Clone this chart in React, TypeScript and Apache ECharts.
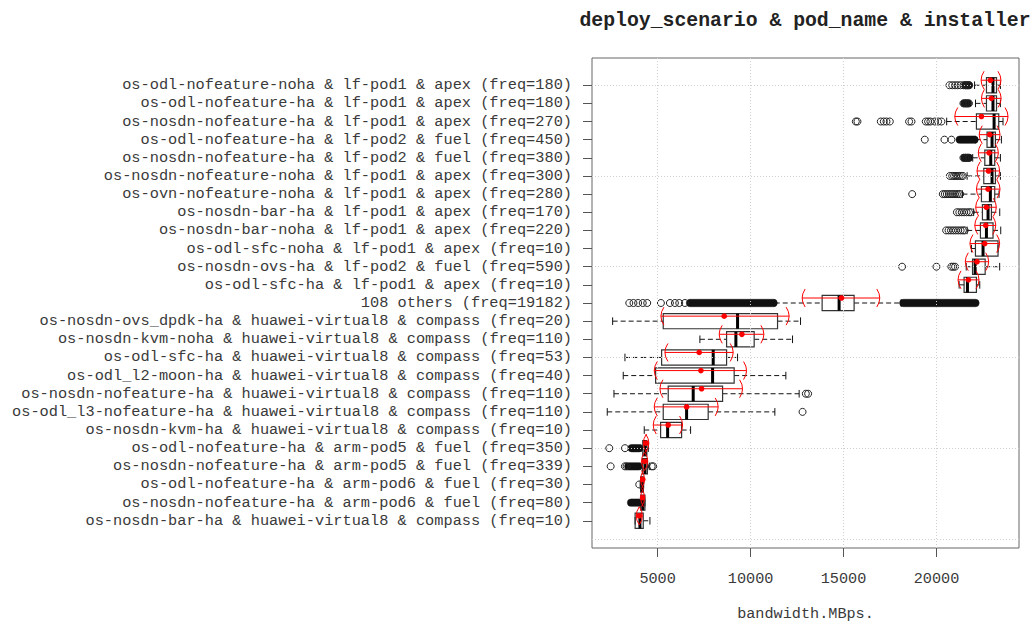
import { useEffect, useRef } from "react";
import * as echarts from "echarts";

// Categories, top to bottom as in the chart
const categories = [
  "os-odl-nofeature-noha & lf-pod1 & apex (freq=180)",
  "os-odl-nofeature-ha & lf-pod1 & apex (freq=180)",
  "os-nosdn-nofeature-ha & lf-pod1 & apex (freq=270)",
  "os-odl-nofeature-ha & lf-pod2 & fuel (freq=450)",
  "os-nosdn-nofeature-ha & lf-pod2 & fuel (freq=380)",
  "os-nosdn-nofeature-noha & lf-pod1 & apex (freq=300)",
  "os-ovn-nofeature-noha & lf-pod1 & apex (freq=280)",
  "os-nosdn-bar-ha & lf-pod1 & apex (freq=170)",
  "os-nosdn-bar-noha & lf-pod1 & apex (freq=220)",
  "os-odl-sfc-noha & lf-pod1 & apex (freq=10)",
  "os-nosdn-ovs-ha & lf-pod2 & fuel (freq=590)",
  "os-odl-sfc-ha & lf-pod1 & apex (freq=10)",
  "108 others (freq=19182)",
  "os-nosdn-ovs_dpdk-ha & huawei-virtual8 & compass (freq=20)",
  "os-nosdn-kvm-noha & huawei-virtual8 & compass (freq=110)",
  "os-odl-sfc-ha & huawei-virtual8 & compass (freq=53)",
  "os-odl_l2-moon-ha & huawei-virtual8 & compass (freq=40)",
  "os-nosdn-nofeature-ha & huawei-virtual8 & compass (freq=110)",
  "os-odl_l3-nofeature-ha & huawei-virtual8 & compass (freq=110)",
  "os-nosdn-kvm-ha & huawei-virtual8 & compass (freq=10)",
  "os-odl-nofeature-ha & arm-pod5 & fuel (freq=350)",
  "os-nosdn-nofeature-ha & arm-pod5 & fuel (freq=339)",
  "os-odl-nofeature-ha & arm-pod6 & fuel (freq=30)",
  "os-nosdn-nofeature-ha & arm-pod6 & fuel (freq=80)",
  "os-nosdn-bar-ha & huawei-virtual8 & compass (freq=10)",
];

const boxLow = [22050, 22100, 20550, 22100, 21950, 21650, 21400, 22000, 21650, 21882, 21600, 21218, 11300, 2580, 7274, 3242, 3151, 2651, 2290, 4280, 4100, 4050, 4060, 4050, 3790];
const boxQ1 = [22690, 22690, 22150, 22720, 22600, 22545, 22420, 22473, 22365, 22097, 21940, 21486, 13850, 5302, 8710, 5215, 4892, 5570, 5302, 5161, 4200, 4180, 4090, 4090, 3790];
const boxMedian = [23040, 23040, 23100, 22990, 22920, 22990, 22900, 22775, 22688, 22506, 22080, 21667, 14763, 9300, 9210, 7990, 7957, 6914, 6559, 5538, 4330, 4320, 4160, 4200, 4048];
const boxQ3 = [23230, 23230, 23350, 23170, 23134, 23170, 23134, 22957, 23043, 23312, 22620, 22150, 15570, 11451, 10194, 8710, 9118, 8495, 7720, 6290, 4420, 4450, 4226, 4317, 4226];
const boxHigh = [23440, 23440, 23580, 23494, 23440, 23440, 23366, 23404, 23458, 23312, 23400, 22329, 18100, 12688, 12258, 9301, 11898, 12613, 11306, 6774, 4500, 4550, 4250, 4320, 4586];

const means = [22900, 22955, 22420, 22866, 22830, 22800, 22775, 22688, 22650, 22597, 22183, 21720, 14892, 8582, 9532, 7237, 7328, 7365, 6559, 5570, 4380, 4300, 4200, 4190, 4011];
const ciLow = [22400, 22420, 20984, 22300, 22250, 22180, 22150, 22110, 22060, 21800, 21550, 21160, 12775, 5177, 8312, 5392, 4817, 5124, 4817, 4763, 4230, 4130, 4080, 4080, 3850];
const ciHigh = [23470, 23480, 23850, 23420, 23330, 23400, 23420, 23220, 23190, 23400, 22810, 22290, 16951, 12075, 10715, 9066, 9785, 9570, 8258, 6344, 4530, 4470, 4300, 4300, 4180];

// individual outliers per row (top to bottom)
const outlierValues: number[][] = [
  [20700, 20850, 21000, 21150, 21300, 21450, 21550, 21650, 21750],
  [21450, 21550, 21650, 21750],
  [15661, 15750, 17005, 17167, 17310, 17490, 18527, 18656, 19425, 19550, 19675, 19910, 20090, 20268],
  [19371, 20430, 20806],
  [21450, 21550, 21650, 21750],
  [20720, 20850, 20950, 21050, 21150, 21250, 21350, 21420],
  [18694, 20340, 20450, 20560, 20670, 20780, 20890, 21000, 21100, 21200, 21280],
  [21100, 21230, 21360, 21490, 21620, 21750, 21850],
  [20520, 20650, 20780, 20910, 21040, 21170, 21300, 21420, 21520],
  [],
  [18151, 20000, 20800, 20900, 21000],
  [],
  [3475, 3700, 3950, 4200, 4440, 5177, 5661, 5930, 6163, 6468],
  [],
  [],
  [],
  [],
  [12973, 13097],
  [12796],
  [],
  [2400, 3242],
  [2473, 3240, 3330, 4680, 4760],
  [4011],
  [],
  [],
];

// ranges of densely packed outliers: [row, from, to]
const outlierBands: [number, number, number][] = [
  [0, 21550, 21750],
  [1, 21500, 21700],
  [3, 21250, 22050],
  [4, 21500, 21750],
  [12, 6740, 11240],
  [12, 18215, 22100],
  [20, 3600, 4016],
  [21, 3420, 3980],
  [23, 3570, 3990],
];

const xTicks = [5000, 10000, 15000, 20000];
const yGridPositions = [0, 5, 10, 15, 20, 25];

const FONT = "'Liberation Mono', 'DejaVu Sans Mono', monospace";

export default function App() {
  const ref = useRef<HTMLDivElement>(null);

  useEffect(() => {
    const chart = echarts.init(ref.current!, null, { renderer: "svg" });
    const n = categories.length;
    const yData = [" ", ...categories.slice().reverse(), "  "];
    const idx = (r: number) => n - r;

    const boxData = categories.map((_, r) => [idx(r), boxLow[r], boxQ1[r], boxMedian[r], boxQ3[r], boxHigh[r]]);
    const ciData = categories.map((_, r) => [idx(r), means[r], ciLow[r], ciHigh[r]]);
    const outData: number[][] = [];
    outlierValues.forEach((vals, r) => vals.forEach((v) => outData.push([v, idx(r)])));
    const bandData = outlierBands.map(([r, a, b]) => [idx(r), a, b]);

    const renderBox = (_params: any, api: any) => {
      const y = api.value(0);
      const lo = api.coord([api.value(1), y]);
      const q1 = api.coord([api.value(2), y]);
      const md = api.coord([api.value(3), y]);
      const q3 = api.coord([api.value(4), y]);
      const hi = api.coord([api.value(5), y]);
      const band = api.size([0, 1])[1];
      const h = band * 0.42;
      const cy = lo[1];
      const st = 3.8;
      const dash = { stroke: "#111", lineWidth: 1, lineDash: [5, 3], fill: null };
      const solid = { stroke: "#111", lineWidth: 1, fill: null };
      return {
        type: "group",
        children: [
          { type: "line", shape: { x1: lo[0], y1: cy, x2: q1[0], y2: cy }, style: dash },
          { type: "line", shape: { x1: q3[0], y1: cy, x2: hi[0], y2: cy }, style: dash },
          { type: "line", shape: { x1: lo[0], y1: cy - st, x2: lo[0], y2: cy + st }, style: solid },
          { type: "line", shape: { x1: hi[0], y1: cy - st, x2: hi[0], y2: cy + st }, style: solid },
          {
            type: "rect",
            shape: { x: q1[0], y: cy - h, width: q3[0] - q1[0], height: 2 * h },
            style: { fill: "transparent", stroke: "#333", lineWidth: 1.2 },
          },
          { type: "line", shape: { x1: md[0], y1: cy - h, x2: md[0], y2: cy + h }, style: { stroke: "#000", lineWidth: 3 } },
        ],
      };
    };

    const renderBands = (_params: any, api: any) => {
      const y = api.value(0);
      const a = api.coord([api.value(1), y]);
      const b = api.coord([api.value(2), y]);
      const r = 3.7;
      return {
        type: "rect",
        shape: { x: a[0] - r, y: a[1] - r, width: b[0] - a[0] + 2 * r, height: 2 * r, r: r },
        style: { fill: "#111", stroke: "#111", lineWidth: 0.5 },
      };
    };

    const renderCI = (_params: any, api: any) => {
      const y = api.value(0);
      const m = api.coord([api.value(1), y]);
      const lo = api.coord([api.value(2), y]);
      const hi = api.coord([api.value(3), y]);
      const cy = m[1] - 5;
      const bh = 9;
      const red = "#ff0000";
      return {
        type: "group",
        children: [
          { type: "line", shape: { x1: lo[0], y1: cy, x2: hi[0], y2: cy }, style: { stroke: red, lineWidth: 1 } },
          {
            type: "bezierCurve",
            shape: { x1: lo[0] + 3, y1: cy - bh, x2: lo[0] + 3, y2: cy + bh, cpx1: lo[0] - 3, cpy1: cy },
            style: { stroke: red, lineWidth: 1, fill: null },
          },
          {
            type: "bezierCurve",
            shape: { x1: hi[0] - 3, y1: cy - bh, x2: hi[0] - 3, y2: cy + bh, cpx1: hi[0] + 3, cpy1: cy },
            style: { stroke: red, lineWidth: 1, fill: null },
          },
          { type: "circle", shape: { cx: m[0], cy: cy, r: 2.8 }, style: { fill: red } },
        ],
      };
    };

    const option: any = {
      animation: false,
      backgroundColor: "#ffffff",
      textStyle: { fontFamily: FONT },
      graphic: [
        {
          type: "text",
          x: 805,
          y: 21,
          style: {
            text: "deploy_scenario & pod_name & installer",
            font: `bold 19.8px ${FONT}`,
            fill: "#222",
            align: "center",
            verticalAlign: "middle",
          },
        },
      ],
      grid: {
        left: 592,
        top: 58,
        width: 427,
        height: 490,
        show: true,
        borderColor: "#666",
        borderWidth: 1,
        backgroundColor: "transparent",
        containLabel: false,
        outerBoundsMode: "none",
      },
      xAxis: {
        type: "value",
        min: 1470,
        max: 24440,
        name: "bandwidth.MBps.",
        nameLocation: "middle",
        nameGap: 58,
        nameTextStyle: { fontFamily: FONT, fontSize: 15.2, color: "#3a3a3a" },
        axisLine: { show: false },
        axisTick: { show: true, length: 9, customValues: xTicks, lineStyle: { color: "#555" } },
        axisLabel: {
          customValues: xTicks,
          margin: 23,
          fontFamily: FONT,
          fontSize: 15.2,
          color: "#3a3a3a",
          formatter: (v: number) => String(v),
        },
        splitLine: { show: false },
      },
      yAxis: {
        type: "category",
        data: yData,
        axisLine: { show: false },
        axisTick: {
          show: true,
          length: 9,
          alignWithLabel: true,
          interval: (_i: number, v: string) => v.trim() !== "",
          lineStyle: { color: "#555" },
        },
        axisLabel: {
          interval: 0,
          margin: 20,
          fontFamily: FONT,
          fontSize: 15.3,
          color: "#3a3a3a",
          padding: [3, 0, 0, 0],
        },
        splitLine: { show: false },
      },
      series: [
        {
          type: "custom",
          name: "box",
          renderItem: renderBox,
          data: boxData,
          encode: { y: 0, x: [1, 2, 3, 4, 5] },
          z: 2,
        },
        {
          type: "custom",
          name: "dense outliers",
          renderItem: renderBands,
          data: bandData,
          encode: { y: 0, x: [1, 2] },
          z: 2,
        },
        {
          type: "scatter",
          name: "outliers",
          data: outData,
          symbol: "circle",
          symbolSize: 7,
          itemStyle: { color: "rgba(0,0,0,0)", borderColor: "#222", borderWidth: 1, opacity: 1 },
          z: 3,
          markLine: {
            silent: true,
            z: 4,
            symbol: ["none", "none"],
            label: { show: false },
            lineStyle: { color: "#cfcfcf", type: [1, 2], width: 1 },
            data: [...xTicks.map((v) => ({ xAxis: v })), ...yGridPositions.map((v) => ({ yAxis: v }))],
          },
        },
        {
          type: "custom",
          name: "mean",
          renderItem: renderCI,
          data: ciData,
          encode: { y: 0, x: [1, 2, 3] },
          z: 6,
        },
      ],
    };

    chart.setOption(option);
    return () => chart.dispose();
  }, []);

  return (
    <div
      ref={ref}
      style={{ position: "fixed", left: 0, top: 0, width: 1032, height: 622, background: "#fff" }}
    />
  );
}
